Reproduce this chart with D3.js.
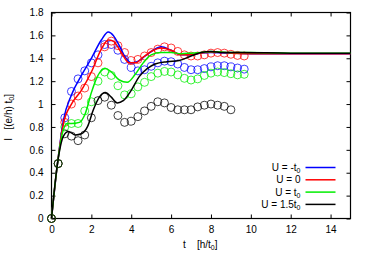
<!DOCTYPE html>
<html>
<head>
<meta charset="utf-8">
<script src="https://cdn.jsdelivr.net/npm/d3@7"></script>
<style>
  html, body { margin: 0; padding: 0; background: #fff; }
  svg text { font-family: "Liberation Sans", Arial, sans-serif; }
</style>
</head>
<body>
<div id="container"></div>
<script>
// tick labels
const xTicks = [0, 2, 4, 6, 8, 10, 12, 14];
const yTicks = [0, 0.2, 0.4, 0.6, 0.8, 1, 1.2, 1.4, 1.6, 1.8];

// legend labels (main text, subscript)
const legendLabels = [["U = -t", "0"], ["U = 0", ""], ["U = t", "0"], ["U = 1.5t", "0"]];
const colors = ["#0000ff", "#ff0000", "#00ee00", "#000000"];

// circles: sampled every 1/3 of h/t0
const circleStep = 1 / 3;
const circBlue = [0, 0.48, 0.88, 1.11, 1.22, 1.29, 1.36, 1.43, 1.52, 1.52, 1.47, 1.39, 1.32, 1.29, 1.30,
  1.33, 1.36, 1.375, 1.37, 1.35, 1.32, 1.30, 1.30, 1.31, 1.325, 1.335, 1.335, 1.325, 1.315, 1.305];
const circRed = [0, 0.48, 0.84, 1.00, 1.07, 1.14, 1.24, 1.36, 1.50, 1.55, 1.51, 1.45, 1.38, 1.39, 1.42,
  1.45, 1.48, 1.50, 1.49, 1.46, 1.43, 1.42, 1.42, 1.43, 1.445, 1.45, 1.445, 1.435, 1.425, 1.42];
const circGreen = [0, 0.48, 0.80, 0.83, 0.83, 0.94, 1.02, 1.20, 1.28, 1.25, 1.16, 1.08, 1.09, 1.15, 1.19,
  1.24, 1.27, 1.285, 1.28, 1.255, 1.225, 1.21, 1.22, 1.25, 1.27, 1.28, 1.275, 1.265, 1.255, 1.26];
const circBlack = [0, 0.48, 0.74, 0.72, 0.68, 0.73, 0.88, 1.03, 1.06, 0.99, 0.90, 0.84, 0.85, 0.89, 0.94,
  0.98, 1.02, 1.01, 0.97, 0.95, 0.95, 0.95, 0.975, 0.99, 1.00, 0.99, 0.98, 0.95];

// solid curves: [t, I]
const lineBlue = [[0, 0], [0.3, 0.48], [0.6, 0.86], [1.0, 1.08], [1.5, 1.25], [2.0, 1.40], [2.5, 1.56],
  [2.85, 1.63], [3.1, 1.60], [3.4, 1.51], [3.7, 1.41], [4.0, 1.36], [4.3, 1.37], [4.7, 1.42], [5.1, 1.47],
  [5.5, 1.50], [6.0, 1.47], [6.5, 1.43], [7.0, 1.43], [7.5, 1.445], [8.0, 1.45], [9.0, 1.445], [10, 1.44],
  [12, 1.44], [15, 1.44]];
const lineRed = [[0, 0], [0.3, 0.48], [0.6, 0.83], [1.0, 1.00], [1.5, 1.12], [2.0, 1.28], [2.5, 1.48],
  [2.85, 1.56], [3.1, 1.55], [3.5, 1.45], [3.9, 1.36], [4.2, 1.36], [4.6, 1.41], [5.0, 1.46], [5.5, 1.49],
  [6.0, 1.47], [6.5, 1.43], [7.0, 1.43], [7.5, 1.445], [8.0, 1.455], [9.0, 1.445], [10, 1.44],
  [12, 1.44], [15, 1.44]];
const lineGreen = [[0, 0], [0.3, 0.48], [0.6, 0.78], [0.8, 0.83], [1.0, 0.83], [1.4, 0.84], [1.7, 0.92],
  [2.0, 1.10], [2.3, 1.24], [2.7, 1.31], [3.0, 1.28], [3.4, 1.21], [3.8, 1.19], [4.2, 1.26], [4.6, 1.36],
  [5.0, 1.43], [5.5, 1.45], [6.0, 1.45], [6.5, 1.44], [7.0, 1.445], [7.5, 1.45], [8.0, 1.46], [9.0, 1.45],
  [10, 1.45], [12, 1.445], [15, 1.445]];
const lineBlack = [[0, 0], [0.3, 0.48], [0.6, 0.72], [0.85, 0.76], [1.2, 0.73], [1.5, 0.74], [1.8, 0.80],
  [2.1, 0.95], [2.4, 1.06], [2.7, 1.10], [3.0, 1.06], [3.3, 1.01], [3.6, 1.03], [4.0, 1.12], [4.4, 1.24],
  [4.8, 1.31], [5.2, 1.35], [5.8, 1.37], [6.4, 1.38], [7.0, 1.42], [7.5, 1.45], [8.0, 1.46], [8.6, 1.45],
  [9.5, 1.45], [12, 1.445], [15, 1.445]];

const circles = [circBlue, circRed, circGreen, circBlack];
const lines = [lineBlue, lineRed, lineGreen, lineBlack];

// Dimensions
const W = 374, H = 262;
const margin = { top: 12.5, right: 23.5, bottom: 43.5, left: 51.5 };
const width = W - margin.left - margin.right;
const height = H - margin.top - margin.bottom;

const svg = d3.select('#container').append('svg')
  .attr('width', W)
  .attr('height', H)
  .append('g')
  .attr('transform', `translate(${margin.left},${margin.top})`);

const xScale = d3.scaleLinear().domain([0, 15]).range([0, width]);
const yScale = d3.scaleLinear().domain([0, 1.8]).range([height, 0]);

// Axes, ticks pointing inward on all four sides
const styleAxis = g => {
  g.select('.domain').remove();
  g.selectAll('line').attr('stroke', '#000');
  g.selectAll('text').attr('font-size', 10).attr('fill', '#000');
};
svg.append('g')
  .attr('transform', `translate(0,${height})`)
  .call(d3.axisBottom(xScale).tickValues(xTicks).tickSize(-4).tickPadding(7).tickFormat(d => d))
  .call(styleAxis);
svg.append('g')
  .call(d3.axisTop(xScale).tickValues(xTicks).tickSize(-4).tickFormat(''))
  .call(styleAxis);
svg.append('g')
  .call(d3.axisLeft(yScale).tickValues(yTicks).tickSize(-4).tickPadding(8).tickFormat(d => d))
  .call(styleAxis);
svg.append('g')
  .attr('transform', `translate(${width},0)`)
  .call(d3.axisRight(yScale).tickValues(yTicks).tickSize(-4).tickFormat(''))
  .call(styleAxis);

// Plot border
svg.append('rect')
  .attr('width', width)
  .attr('height', height)
  .attr('fill', 'none')
  .attr('stroke', '#000')
  .attr('stroke-width', 1.2);

// Circles (draw first so lines sit on top)
circles.forEach((vals, i) => {
  svg.append('g').selectAll('circle')
    .data(vals)
    .enter()
    .append('circle')
    .attr('cx', (d, k) => xScale(k * circleStep))
    .attr('cy', d => yScale(d))
    .attr('r', 4)
    .attr('fill', 'none')
    .attr('stroke', colors[i])
    .attr('stroke-opacity', 0.75)
    .attr('stroke-width', 1);
});

// Solid curves
const line = d3.line()
  .x(d => xScale(d[0]))
  .y(d => yScale(d[1]))
  .curve(d3.curveMonotoneX);

lines.forEach((pts, i) => {
  svg.append('path')
    .datum(pts)
    .attr('d', line)
    .attr('fill', 'none')
    .attr('stroke', colors[i])
    .attr('stroke-width', 1.5);
});

// Legend
const legend = svg.append('g').attr('transform', `translate(${width - 50},${155})`);
legendLabels.forEach((lab, i) => {
  const row = legend.append('g').attr('transform', `translate(0,${i * 12.3})`);
  const t = row.append('text')
    .attr('x', 0)
    .attr('y', 3.5)
    .attr('text-anchor', 'end')
    .attr('font-size', 10)
    .text(lab[0]);
  if (lab[1]) {
    t.append('tspan').attr('font-size', 7).attr('dy', 2).text(lab[1]);
  }
  row.append('line')
    .attr('x1', 5).attr('x2', 35)
    .attr('y1', 0).attr('y2', 0)
    .attr('stroke', colors[i])
    .attr('stroke-width', 1.5);
});

// Axis labels
const xl = svg.append('text')
  .attr('x', xScale(6.6))
  .attr('y', height + 29)
  .attr('font-size', 10)
  .attr('text-anchor', 'start');
xl.append('tspan').text('t\u00a0\u00a0\u00a0\u00a0[h/t');
xl.append('tspan').attr('font-size', 7).attr('dy', 2).text('0');
xl.append('tspan').attr('dy', -2).text(']');

const yl = svg.append('text')
  .attr('transform', `translate(${-40},${yScale(0.68)}) rotate(-90)`)
  .attr('font-size', 10)
  .attr('text-anchor', 'start');
yl.append('tspan').text('I\u00a0\u00a0\u00a0[(e/h) t');
yl.append('tspan').attr('font-size', 7).attr('dy', 2).text('0');
yl.append('tspan').attr('dy', -2).text(']');
</script>
</body>
</html>
